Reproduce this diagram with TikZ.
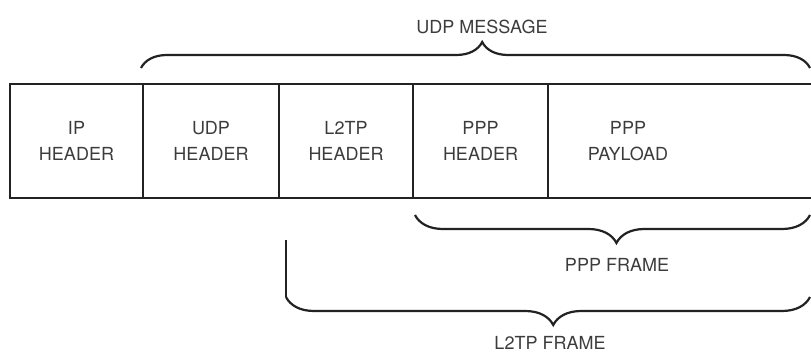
\documentclass[tikz,border=0pt]{standalone}
\usepackage{fontspec}
\setmainfont{TeX Gyre Heros}
\usetikzlibrary{positioning,calc,decorations.pathreplacing}
\definecolor{LineGray}{HTML}{222222}
\definecolor{TextGray}{HTML}{3C3C3C}

\begin{document}
\begin{tikzpicture}[x=1pt, y=1pt,
    field/.style={draw=LineGray, line width=2.2pt, minimum height=114pt, outer sep=0pt,
        inner sep=0pt, align=center, font=\fontsize{18}{26}\selectfont, text=TextGray},
    bracket/.style={draw=LineGray, line width=2.2pt, decorate,
        decoration={brace, amplitude=#1, aspect=0.51}},
    lbl/.style={font=\fontsize{18}{20}\selectfont, text=TextGray, inner sep=0pt}]
    \clip (0,0) rectangle (811,354);

    % packet fields
    \node[field, minimum width=133pt, anchor=north west] (iphdr) at (10,270) {IP\\HEADER};
    \node[field, minimum width=136pt, right=0pt of iphdr] (udphdr) {UDP\\HEADER};
    \node[field, minimum width=134pt, right=0pt of udphdr] (l2tphdr) {L2TP\\HEADER};
    \node[field, minimum width=135pt, right=0pt of l2tphdr] (ppphdr) {PPP\\HEADER};
    \node[field, minimum width=282pt, right=0pt of ppphdr] (ppppay) {};
    \node[lbl, align=center, font=\fontsize{18}{26}\selectfont] (paytxt) at (628,213) {PPP\\PAYLOAD};

    % bracket end points
    \coordinate (udpL) at ($(udphdr.north west)+(-2,16)$);
    \coordinate (udpR) at (810,286);
    \coordinate (pppL) at ($(ppphdr.south west)+(2,-17)$);
    \coordinate (pppR) at (810,139);
    \coordinate (l2tpTop) at ($(l2tphdr.south west)+(7,-42)$);
    \coordinate (l2tpL) at (286,57);
    \coordinate (l2tpR) at (810,57);

    % UDP message
    \draw[bracket=26pt] (udpL) -- (udpR);
    \node[lbl] (udpmsg) at (482,327) {UDP MESSAGE};

    % PPP frame
    \draw[bracket=28pt, decoration={mirror}] (pppL) -- (pppR);
    \node[lbl] (pppfrm) at (617,89) {PPP FRAME};

    % L2TP frame
    \draw[draw=LineGray, line width=2.2pt] (l2tpTop) -- (l2tpL);
    \draw[bracket=28pt, decoration={mirror}] (l2tpL) -- (l2tpR);
    \node[lbl] (l2tpfrm) at (550,11) {L2TP FRAME};

\end{tikzpicture}
\end{document}
